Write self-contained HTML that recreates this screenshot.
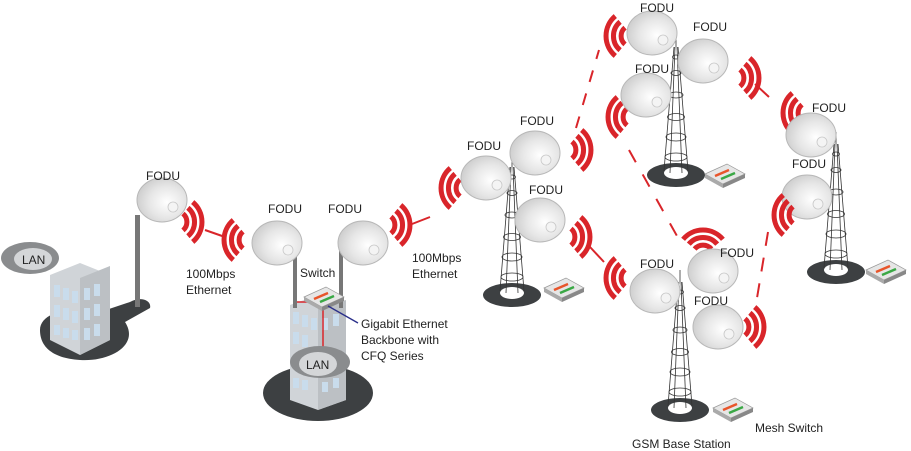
<!DOCTYPE html>
<html><head><meta charset="utf-8"><style>
html,body{margin:0;padding:0;background:#fff;}
svg{display:block;}
text{font-family:"Liberation Sans",sans-serif;font-size:12px;fill:#222;}
</style></head><body>
<svg width="911" height="451" viewBox="0 0 911 451" xmlns="http://www.w3.org/2000/svg">
<defs>
<radialGradient id="dg" cx="0.6" cy="0.55" r="0.6">
<stop offset="0" stop-color="#ffffff"/><stop offset="0.6" stop-color="#e6e6e6"/><stop offset="1" stop-color="#cfcfcf"/>
</radialGradient>
<g id="dish"><ellipse cx="0" cy="0" rx="25" ry="22" fill="url(#dg)" stroke="#b8b8b8" stroke-width="1"/><ellipse cx="11" cy="7" rx="5" ry="5" fill="#f4f4f4" stroke="#c8c8c8" stroke-width="0.8"/></g>
<g id="wave" fill="none" stroke="#d9252a" stroke-width="5" stroke-linecap="butt">
<path d="M7,-8.4 A11,11 0 0 1 7,8.4"/>
<path d="M11.9,-14.2 A18.5,18.5 0 0 1 11.9,14.2"/>
<path d="M16.7,-19.9 A26,26 0 0 1 16.7,19.9"/>
</g>
<g id="tower">
<ellipse cx="0" cy="0" rx="29" ry="12" fill="#3d4042"/>
<ellipse cx="0" cy="-2" rx="12" ry="6" fill="#fff"/>
<g fill="none" stroke="#333" stroke-width="0.8">
<path d="M-12,-4 L-2,-128 M12,-4 L2,-128 M-6,-2 L-1,-128 M6,-2 L1,-128 M0,-128 L0,-140"/>
<ellipse cx="0" cy="-18" rx="11" ry="4"/><ellipse cx="0" cy="-38" rx="10" ry="4"/>
<ellipse cx="0" cy="-58" rx="8.5" ry="3.5"/><ellipse cx="0" cy="-80" rx="7" ry="3"/>
<ellipse cx="0" cy="-102" rx="5" ry="2.5"/><ellipse cx="0" cy="-118" rx="3.5" ry="2"/>
</g></g>
<g id="sw">
<polygon points="0,10 22,0 40,10 18,20" fill="#e6e6e6" stroke="#999" stroke-width="0.7"/>
<polygon points="0,10 18,20 18,24 0,14" fill="#aaa"/>
<polygon points="18,20 40,10 40,14 18,24" fill="#888"/>
<path d="M10,12 L24,6" stroke="#e8552b" stroke-width="2.5"/>
<path d="M16,15 L30,9" stroke="#3aa845" stroke-width="2.5"/>
</g>
</defs>

<!-- left building -->
<path d="M40,330 C40,310 80,305 100,312 L130,302 C140,296 152,300 150,308 L125,322 C140,345 110,362 80,360 C50,358 40,345 40,330Z" fill="#3d4042"/>
<polygon points="50,275 80,263 110,275 110,340 80,355 50,340" fill="#d0d4d8"/>
<polygon points="80,278 110,266 110,340 80,355" fill="#bcc0c4"/>
<g fill="#c9dcec"><rect x="54" y="285" width="6" height="12"/><rect x="63" y="288" width="6" height="12"/><rect x="72" y="291" width="6" height="12"/><rect x="54" y="305" width="6" height="12"/><rect x="63" y="308" width="6" height="12"/><rect x="72" y="311" width="6" height="12"/><rect x="54" y="325" width="6" height="10"/><rect x="63" y="328" width="6" height="10"/><rect x="72" y="330" width="6" height="10"/><rect x="84" y="288" width="6" height="12"/><rect x="94" y="284" width="6" height="12"/><rect x="84" y="308" width="6" height="12"/><rect x="94" y="304" width="6" height="12"/><rect x="84" y="328" width="6" height="12"/><rect x="94" y="324" width="6" height="12"/></g>
<ellipse cx="30" cy="258" rx="29" ry="16" fill="#8a8c8e"/>
<ellipse cx="33" cy="259" rx="19" ry="11" fill="#d4d6d8"/>
<text x="22" y="264" font-size="12">LAN</text>
<rect x="135" y="215" width="5" height="92" fill="#777"/>
<use href="#dish" x="162" y="200"/>
<text x="146" y="180">FODU</text>
<use href="#wave" x="176" y="222"/>
<line x1="205" y1="230" x2="225" y2="237" stroke="#d9252a" stroke-width="2"/>
<use href="#wave" transform="translate(250,240) scale(-1,1)"/>
<text x="186" y="278">100Mbps</text><text x="186" y="294">Ethernet</text>

<!-- middle building -->
<ellipse cx="318" cy="393" rx="55" ry="28" fill="#3d4042"/>
<polygon points="290,305 318,295 346,305 346,400 318,410 290,400" fill="#d0d4d8"/>
<polygon points="318,308 346,300 346,400 318,410" fill="#bcc0c4"/>
<g fill="#c9dcec"><rect x="293" y="312" width="6" height="12"/><rect x="302" y="315" width="6" height="12"/><rect x="311" y="318" width="6" height="12"/><rect x="293" y="332" width="6" height="12"/><rect x="302" y="335" width="6" height="12"/><rect x="322" y="318" width="6" height="12"/><rect x="333" y="314" width="6" height="12"/><rect x="293" y="378" width="6" height="10"/><rect x="302" y="380" width="6" height="10"/><rect x="322" y="382" width="6" height="10"/><rect x="333" y="378" width="6" height="10"/></g>
<rect x="293" y="250" width="4" height="58" fill="#777"/>
<rect x="339" y="250" width="4" height="58" fill="#777"/>
<line x1="297" y1="302" x2="339" y2="302" stroke="#d9252a" stroke-width="1.5"/>
<line x1="323" y1="305" x2="323" y2="355" stroke="#d9252a" stroke-width="1.5"/>
<use href="#sw" x="304" y="287"/>
<line x1="328" y1="306" x2="358" y2="323" stroke="#2a2f8a" stroke-width="1.3"/>
<ellipse cx="320" cy="362" rx="30" ry="16" fill="#8a8c8e"/>
<ellipse cx="318" cy="364" rx="19" ry="12" fill="#d4d6d8"/>
<text x="306" y="369">LAN</text>
<use href="#dish" x="277" y="243"/>
<use href="#dish" x="363" y="243"/>
<text x="268" y="213">FODU</text><text x="328" y="213">FODU</text>
<text x="300" y="277">Switch</text>
<text x="361" y="328">Gigabit Ethernet</text><text x="361" y="344">Backbone with</text><text x="361" y="360">CFQ Series</text>
<use href="#wave" x="384" y="225"/>
<line x1="412" y1="224" x2="430" y2="217" stroke="#d9252a" stroke-width="2"/>
<text x="412" y="262">100Mbps</text><text x="412" y="278">Ethernet</text>

<!-- tower A -->
<use href="#tower" x="512" y="295"/>
<use href="#wave" transform="translate(467,188) scale(-1,1)"/>
<use href="#dish" x="486" y="178"/>
<use href="#dish" x="535" y="153"/>
<use href="#dish" x="540" y="220"/>
<text x="467" y="150">FODU</text><text x="520" y="125">FODU</text><text x="529" y="194">FODU</text>
<use href="#wave" x="565" y="150"/>
<use href="#wave" x="564" y="237"/>
<use href="#sw" x="544" y="278"/>
<line x1="590" y1="247" x2="604" y2="262" stroke="#d9252a" stroke-width="2"/>
<path d="M576,128 L599,50" stroke="#d9252a" stroke-width="2" stroke-dasharray="12,12"/>

<!-- tower B -->
<use href="#tower" x="676" y="175"/>
<use href="#wave" transform="translate(632,36) scale(-1,1)"/>
<use href="#wave" transform="translate(634,117) scale(-1,1)"/>
<use href="#dish" x="652" y="33"/>
<use href="#dish" x="703" y="61"/>
<use href="#dish" x="646" y="95"/>
<text x="640" y="12">FODU</text><text x="693" y="31">FODU</text><text x="635" y="73">FODU</text>
<use href="#wave" x="733" y="78"/>
<use href="#sw" x="705" y="164"/>
<line x1="755" y1="84" x2="769" y2="97" stroke="#d9252a" stroke-width="2"/>
<path d="M629,150 L677,236" stroke="#d9252a" stroke-width="2" stroke-dasharray="14,14"/>

<!-- tower C -->
<use href="#tower" x="836" y="272"/>
<use href="#wave" transform="translate(809,113) scale(-1,1)"/>
<use href="#dish" x="811" y="135"/>
<text x="812" y="112">FODU</text>
<use href="#dish" x="807" y="197"/>
<text x="792" y="168">FODU</text>
<use href="#wave" transform="translate(800,215) scale(-1,1)"/>
<use href="#sw" x="866" y="260"/>
<path d="M768,232 L757,298" stroke="#d9252a" stroke-width="2" stroke-dasharray="14,12"/>

<!-- tower D -->
<use href="#tower" x="680" y="410"/>
<use href="#wave" transform="translate(703,256) rotate(-90)"/>
<use href="#wave" transform="translate(632,278) scale(-1,1)"/>
<use href="#dish" x="655" y="291"/>
<use href="#dish" x="713" y="271"/>
<use href="#dish" x="718" y="327"/>
<text x="640" y="268">FODU</text><text x="720" y="257">FODU</text><text x="694" y="305">FODU</text>
<use href="#wave" x="738" y="327"/>
<use href="#sw" x="713" y="398"/>
<text x="755" y="432">Mesh Switch</text>
<text x="632" y="448">GSM Base Station</text>
</svg>
</body></html>
